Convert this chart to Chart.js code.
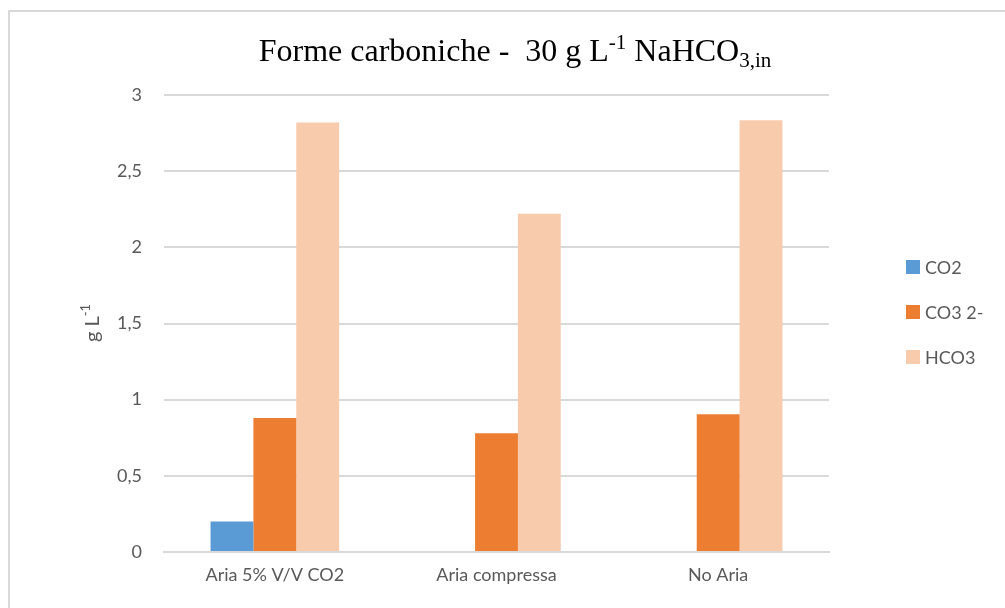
<!DOCTYPE html>
<html>
<head>
<meta charset="utf-8">
<script src="https://cdn.jsdelivr.net/npm/chart.js@4/dist/chart.umd.min.js"></script>
<style>
html,body{margin:0;padding:0;background:#fff;}
#wrap{position:relative;width:1005px;height:608px;}
</style>
</head>
<body>
<div id="wrap"><canvas id="c" width="1005" height="608"></canvas></div>
<script>
const categories = ["Aria 5% V/V CO2", "Aria compressa", "No Aria"];
const seriesNames = ["CO2", "CO3 2-", "HCO3"];
const co2 = [0.2, null, null];
const co3 = [0.88, 0.78, 0.905];
const hco3 = [2.82, 2.22, 2.835];
const yTicks = [0, 0.5, 1, 1.5, 2, 2.5, 3];
const colors = ["#5b9bd5", "#ed7d31", "#f8cbad"];

const tickFont = {family: "Lato, 'Open Sans', sans-serif", size: 18};
const textColor = "#595959";

const decor = {
  id: "decor",
  beforeDraw(chart) {
    const ctx = chart.ctx;
    ctx.save();
    ctx.fillStyle = "#fff";
    ctx.fillRect(0, 0, chart.width, chart.height);
    ctx.strokeStyle = "#d9d9d9";
    ctx.lineWidth = 2;
    ctx.beginPath();
    ctx.moveTo(9, chart.height);
    ctx.lineTo(9, 11);
    ctx.lineTo(chart.width, 11);
    ctx.stroke();
    ctx.restore();
  },
  afterDraw(chart) {
    const ctx = chart.ctx;
    ctx.save();
    // Title with super/subscripts
    const big = "32px 'Liberation Serif', 'Times New Roman', serif";
    const small = "21px 'Liberation Serif', 'Times New Roman', serif";
    const segs = [
      {t: "Forme carboniche -  30 g L", f: big, dy: 0},
      {t: "-1", f: small, dy: -12},
      {t: " NaHCO", f: big, dy: 0},
      {t: "3,in", f: small, dy: 6}
    ];
    let total = 0;
    segs.forEach(s => { ctx.font = s.f; s.w = ctx.measureText(s.t).width; total += s.w; });
    let x = 515 - total / 2;
    const base = 61;
    ctx.fillStyle = "#000";
    ctx.textBaseline = "alphabetic";
    segs.forEach(s => { ctx.font = s.f; ctx.fillText(s.t, x, base + s.dy); x += s.w; });

    // Y axis title rotated
    ctx.translate(92, 323);
    ctx.rotate(-Math.PI / 2);
    ctx.fillStyle = textColor;
    const yb = "20px Lato, 'Open Sans', sans-serif";
    const ys = "13px Lato, 'Open Sans', sans-serif";
    const ysegs = [{t: "g L", f: yb, dy: 0}, {t: "-1", f: ys, dy: -9}];
    let tw = 0;
    ysegs.forEach(s => { ctx.font = s.f; s.w = ctx.measureText(s.t).width; tw += s.w; });
    let yx = -tw / 2;
    ysegs.forEach(s => { ctx.font = s.f; ctx.fillText(s.t, yx, s.dy + 7); yx += s.w; });
    ctx.restore();

    // Legend
    ctx.save();
    ctx.font = "18px Lato, 'Open Sans', sans-serif";
    ctx.textBaseline = "middle";
    chart.data.datasets.forEach((ds, i) => {
      const cy = 267 + i * 45;
      ctx.fillStyle = ds.backgroundColor;
      ctx.fillRect(906, cy - 7, 14, 14);
      ctx.fillStyle = textColor;
      ctx.fillText(ds.label, 925, cy + 1);
    });
    ctx.restore();
  }
};

new Chart(document.getElementById("c"), {
  type: "bar",
  data: {
    labels: categories,
    datasets: [
      {label: seriesNames[0], data: co2, backgroundColor: colors[0]},
      {label: seriesNames[1], data: co3, backgroundColor: colors[1]},
      {label: seriesNames[2], data: hco3, backgroundColor: colors[2]}
    ]
  },
  options: {
    responsive: false,
    animation: false,
    devicePixelRatio: 1,
    layout: {padding: {top: 95, right: 176, left: 0, bottom: 0}},
    datasets: {bar: {categoryPercentage: 0.58, barPercentage: 1.0, borderWidth: 0}},
    plugins: {legend: {display: false}, title: {display: false}, tooltip: {enabled: false}},
    scales: {
      x: {
        grid: {display: false, drawTicks: false},
        border: {display: true, color: "#d9d9d9", width: 2},
        ticks: {font: tickFont, color: textColor, padding: 12, maxRotation: 0},
        afterFit(s) { s.height = 56; }
      },
      y: {
        min: 0, max: 3,
        afterBuildTicks(s) { s.ticks = yTicks.map(v => ({value: v})); },
        grid: {color: "#d9d9d9", lineWidth: 2, drawTicks: false},
        border: {display: false},
        ticks: {
          font: tickFont, color: textColor, padding: 22,
          callback: v => String(v).replace(".", ",")
        },
        afterFit(s) { s.width = 164; }
      }
    }
  },
  plugins: [decor]
});
</script>
</body>
</html>
